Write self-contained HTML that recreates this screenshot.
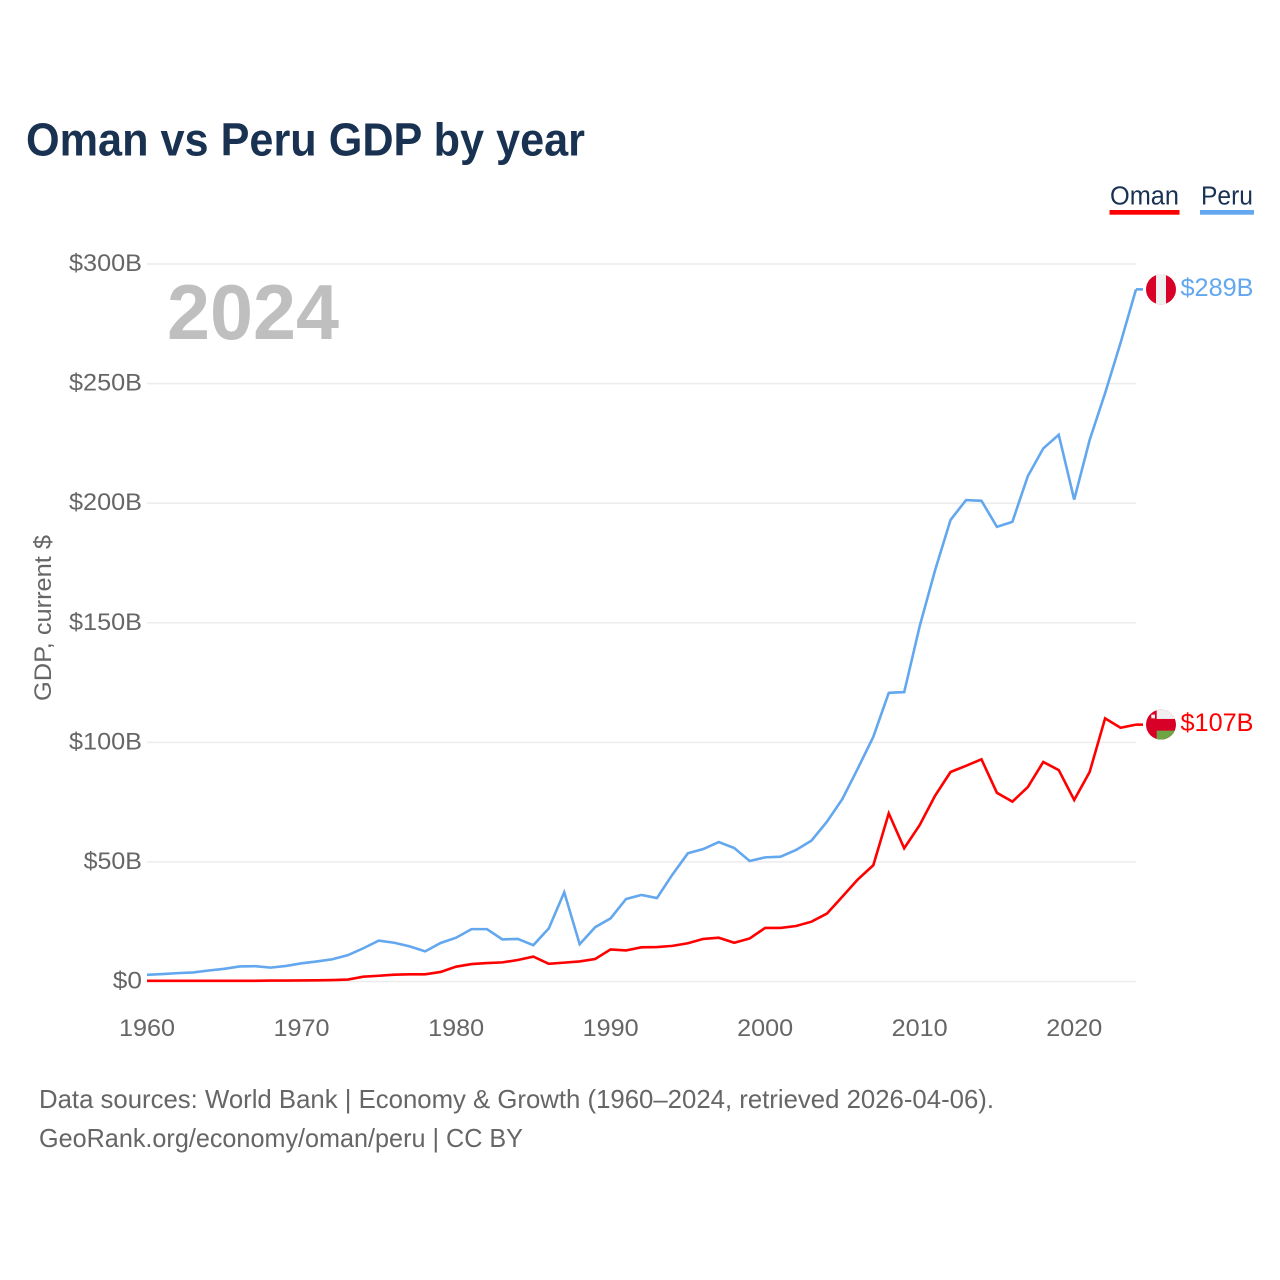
<!DOCTYPE html>
<html lang="en">
<head>
<meta charset="utf-8">
<title>Oman vs Peru GDP by year</title>
<style>
html,body{margin:0;padding:0;background:#fff;width:1280px;height:1280px;overflow:hidden}
svg{display:block;font-family:"Liberation Sans",sans-serif}
</style>
</head>
<body>
<svg id="chart" xmlns="http://www.w3.org/2000/svg" width="1280" height="1280" viewBox="0 0 1280 1280">
  <rect width="1280" height="1280" fill="#fff"/>
  <text x="26" y="155.5" font-size="46" font-weight="700" fill="#1a3252" textLength="559" lengthAdjust="spacingAndGlyphs">Oman vs Peru GDP by year</text>

  <g>
    <g>
      <text x="1110" y="204.5" font-size="25.5" fill="#1a3252" textLength="69" lengthAdjust="spacingAndGlyphs">Oman</text>
      <rect x="1109.5" y="210" width="70" height="4.7" fill="#ff0000"/>
    </g>
    <g>
      <text x="1201" y="204.5" font-size="25.5" fill="#1a3252" textLength="52" lengthAdjust="spacingAndGlyphs">Peru</text>
      <rect x="1200" y="210" width="54" height="4.7" fill="#63a7ee"/>
    </g>
  </g>

  <g id="grid"></g>
  <g id="yticks"></g>
  <g id="xticks"></g>

  <text x="167" y="339" font-size="78" font-weight="700" fill="#bfbfbf" textLength="172" lengthAdjust="spacingAndGlyphs">2024</text>
  <text transform="translate(51,701) rotate(-90)" x="0" y="0" font-size="24" fill="#666666" textLength="166" lengthAdjust="spacingAndGlyphs">GDP, current $</text>

  <g id="series"></g>
  <g id="ends"></g>

  <defs>
    <clipPath id="flag-clip"><circle cx="0" cy="0" r="15"/></clipPath>
  </defs>

  <g>
    <text x="39" y="1108" font-size="26" fill="#666666" textLength="955" lengthAdjust="spacingAndGlyphs">Data sources: World Bank | Economy &amp; Growth (1960–2024, retrieved 2026-04-06).</text>
    <text x="39" y="1147" font-size="26" fill="#666666" textLength="484" lengthAdjust="spacingAndGlyphs">GeoRank.org/economy/oman/peru | CC BY</text>
  </g>
</svg>

<script>
const years = [1960,1961,1962,1963,1964,1965,1966,1967,1968,1969,
  1970,1971,1972,1973,1974,1975,1976,1977,1978,1979,
  1980,1981,1982,1983,1984,1985,1986,1987,1988,1989,
  1990,1991,1992,1993,1994,1995,1996,1997,1998,1999,
  2000,2001,2002,2003,2004,2005,2006,2007,2008,2009,
  2010,2011,2012,2013,2014,2015,2016,2017,2018,2019,
  2020,2021,2022,2023,2024];
const peruValues = [2.8,3.1,3.5,3.8,4.6,5.3,6.3,6.4,5.8,6.5,
  7.6,8.4,9.3,11.0,13.9,17.1,16.2,14.7,12.6,16.1,
  18.3,21.9,21.9,17.6,17.8,15.2,22.2,37.3,15.6,22.7,
  26.4,34.5,36.2,34.9,44.7,53.6,55.4,58.3,55.8,50.4,
  51.9,52.2,55.0,58.9,66.8,76.3,89.1,102.3,120.7,121.0,
  148.5,172.0,193.0,201.3,201.0,190.1,192.2,211.3,222.9,228.6,
  201.5,226.4,246.0,267.0,289.4];
const omanValues = [0.3,0.3,0.3,0.3,0.3,0.3,0.3,0.3,0.4,0.4,
  0.45,0.5,0.6,0.8,2.0,2.4,2.85,3.0,3.0,4.0,
  6.2,7.3,7.7,8.0,9.0,10.4,7.4,7.9,8.4,9.4,
  13.4,13.0,14.3,14.4,14.9,16.0,17.8,18.3,16.2,18.0,
  22.4,22.4,23.2,25.0,28.4,35.5,42.7,48.6,70.3,55.7,
  65.4,77.7,87.6,90.2,92.9,78.9,75.2,81.3,91.8,88.4,
  75.9,87.6,110.0,106.1,107.4];
const yTickValues = [0,50,100,150,200,250,300];
const yTickLabels = ["$0","$50B","$100B","$150B","$200B","$250B","$300B"];
const xTickValues = [1960,1970,1980,1990,2000,2010,2020];
const xTickLabels = ["1960","1970","1980","1990","2000","2010","2020"];

const NS = "http://www.w3.org/2000/svg";
const plotLeft = 147, plotRight = 1136, plotBottom = 981.5, plotTop = 264;
const xScale = v => plotLeft + (v - years[0]) / (years[years.length - 1] - years[0]) * (plotRight - plotLeft);
const yScale = v => plotBottom - v / 300 * (plotBottom - plotTop);

function make(tag, attrs, text) {
  const el = document.createElementNS(NS, tag);
  for (const k in attrs) el.setAttribute(k, attrs[k]);
  if (text !== undefined) el.textContent = text;
  return el;
}

const gridG = document.getElementById("grid");
const yG = document.getElementById("yticks");
const xG = document.getElementById("xticks");
const seriesG = document.getElementById("series");
const endsG = document.getElementById("ends");

yTickValues.forEach((v, i) => {
  const line = make("line", {x1: plotLeft, x2: plotRight, y1: yScale(v), y2: yScale(v), stroke: "#ececec", "stroke-width": 1.5});
  
  
  gridG.appendChild(line);
  const label = make("text", {
    x: 142, y: yScale(v) + 7, "text-anchor": "end", "font-size": 24, fill: "#666666",
    textLength: yTickLabels[i].length * 14.6, lengthAdjust: "spacingAndGlyphs"
  }, yTickLabels[i]);
  
  
  yG.appendChild(label);
});

xTickValues.forEach((v, i) => {
  const label = make("text", {
    x: xScale(v), y: 1036, "text-anchor": "middle", "font-size": 24, fill: "#666666",
    textLength: 56, lengthAdjust: "spacingAndGlyphs"
  }, xTickLabels[i]);
  
  
  xG.appendChild(label);
});

function linePath(values) {
  return values.map((v, i) => (i ? "L" : "M") + xScale(years[i]).toFixed(2) + " " + yScale(v).toFixed(2)).join(" ");
}

const peruLine = make("path", {d: linePath(peruValues), fill: "none", stroke: "#63a7ee", "stroke-width": 2.6, "stroke-linejoin": "miter"});


seriesG.appendChild(peruLine);

const omanLine = make("path", {d: linePath(omanValues), fill: "none", stroke: "#ff0000", "stroke-width": 2.6, "stroke-linejoin": "miter"});


seriesG.appendChild(omanLine);

function endLabel(v) { return "$" + Math.round(v) + "B"; }

function addEnd(values, color, drawFlag, flagName, leaderName, labelName) {
  const last = values[values.length - 1];
  const y = yScale(last);
  const leader = make("line", {x1: plotRight, x2: plotRight + 7, y1: y, y2: y, stroke: color, "stroke-width": 2.6});
  
  
  endsG.appendChild(leader);
  const flag = make("g", {transform: "translate(1161," + y + ")", "clip-path": "url(#flag-clip)"});
  
  
  drawFlag(flag);
  endsG.appendChild(flag);
  const label = make("text", {
    x: 1180.5, y: y + 6.5, "font-size": 25, fill: color, textLength: 73, lengthAdjust: "spacingAndGlyphs"
  }, endLabel(last));
  
  
  endsG.appendChild(label);
}

addEnd(peruValues, "#63a7ee", g => {
  g.appendChild(make("rect", {x: -15, y: -15, width: 30, height: 30, fill: "#d80027"}));
  g.appendChild(make("rect", {x: -5, y: -15, width: 10, height: 30, fill: "#f0f0f0"}));
}, "flag-peru", "leader-peru", "end-value-peru");

addEnd(omanValues, "#ff0000", g => {
  g.appendChild(make("rect", {x: -15, y: -15, width: 30, height: 30, fill: "#d80027"}));
  g.appendChild(make("rect", {x: -4.3, y: -15, width: 19.3, height: 9.3, fill: "#f0f0f0"}));
  g.appendChild(make("rect", {x: -4.3, y: 6, width: 19.3, height: 9, fill: "#6da544"}));
  g.appendChild(make("rect", {x: -9.7, y: -10, width: 3.7, height: 3.7, fill: "#f0f0f0"}));
}, "flag-oman", "leader-oman", "end-value-oman");
</script>
</body>
</html>
